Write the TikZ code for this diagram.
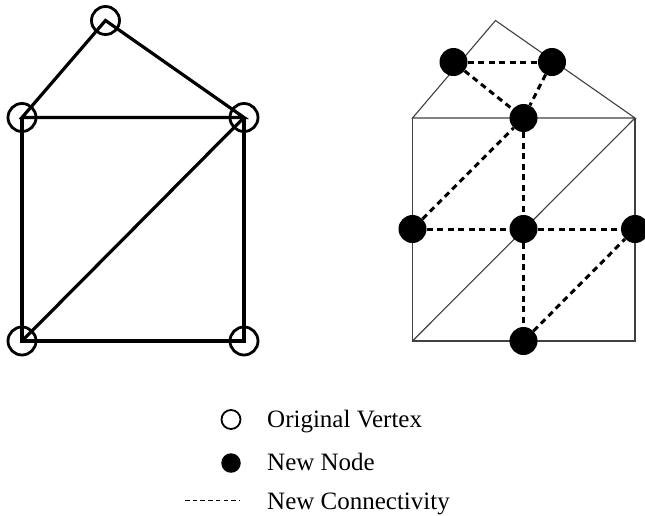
\documentclass[tikz,border=0pt]{standalone}
\usepackage{fontspec}
\setmainfont{Liberation Serif}
\begin{document}
\begin{tikzpicture}[x=1pt,y=-1pt,
  origvertex/.style={circle,draw,line width=2.8pt,minimum size=28pt,inner sep=0pt},
  newnode/.style={circle,fill=black,minimum size=28pt,inner sep=0pt},
  thickedge/.style={line width=3.2pt,line join=miter},
  thinedge/.style={line width=1.1pt,draw=black!75},
  newlink/.style={line width=3pt,dash pattern=on 6pt off 4.5pt},
  legendtext/.style={anchor=base west,inner sep=0pt,font=\fontsize{25}{29}\selectfont}]
\useasboundingbox (0,0) rectangle (645,515);

% original mesh (left)
\coordinate (apex) at (105.5,20.5);
\coordinate (ml) at (22,117.5);
\coordinate (mr) at (244,117.5);
\coordinate (bl) at (22,341);
\coordinate (br) at (244,341);
\draw[thickedge] (ml) -- (apex) -- (mr) -- cycle;
\draw[thickedge] (ml) -- (bl) -- (br) -- (mr);
\draw[thickedge] (bl) -- (mr);
\foreach \v in {apex,ml,mr,bl,br}
  \node[origvertex] (o-\v) at (\v) {};

% refined mesh (right)
\coordinate (rapex) at (495.5,20.5);
\coordinate (rml) at (412.5,118);
\coordinate (rmr) at (635,118);
\coordinate (rbl) at (412.5,341);
\coordinate (rbr) at (635,341);
\draw[thinedge] (rml) -- (rapex) -- (rmr) -- cycle;
\draw[thinedge] (rml) -- (rbl) -- (rbr) -- (rmr);
\draw[thinedge] (rbl) -- (rmr);

\node[newnode] (n1) at (453.5,62) {};
\node[newnode] (n2) at (552,62) {};
\node[newnode] (n3) at (523.5,118) {};
\node[newnode] (nl) at (412.5,229) {};
\node[newnode] (nc) at (523.5,229) {};
\node[newnode] (nr) at (635,229) {};
\node[newnode] (nb) at (523.5,341) {};

\draw[newlink] (n1) -- (n2);
\draw[newlink] (n1) -- (n3);
\draw[newlink] (n2) -- (n3);
\draw[newlink] (n3) -- (nc);
\draw[newlink] (nl) -- (n3);
\draw[newlink] (nl) -- (nc);
\draw[newlink] (nc) -- (nr);
\draw[newlink] (nc) -- (nb);
\draw[newlink] (nb) -- (nr);

% legend
\node[circle,draw,line width=1.8pt,minimum size=19pt,inner sep=0pt] (lg-open) at (231,419.5) {};
\node[circle,fill=black,minimum size=19.5pt,inner sep=0pt] (lg-fill) at (231,463) {};
\coordinate (lg-d1) at (185,500.5);
\coordinate (lg-d2) at (239,500.5);
\draw[line width=1.5pt,dash pattern=on 4.5pt off 3.2pt] (lg-d1) -- (lg-d2);
\node[legendtext] (t1) at (267,427) {Original Vertex};
\node[legendtext] (t2) at (267,470) {New Node};
\node[legendtext] (t3) at (267,509) {New Connectivity};
\end{tikzpicture}
\end{document}
